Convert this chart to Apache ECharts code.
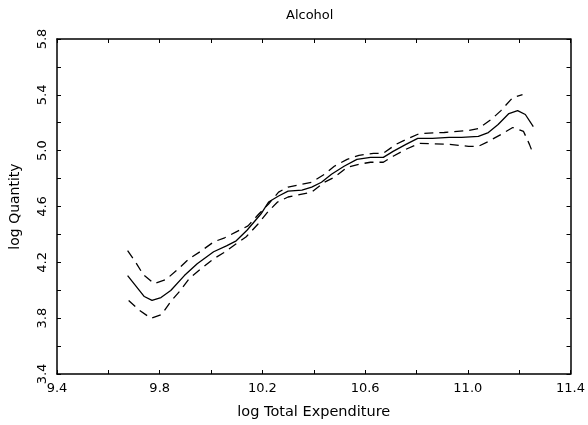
<!DOCTYPE html>
<html>
<head>
<meta charset="utf-8">
<script src="https://cdn.jsdelivr.net/npm/echarts@6/dist/echarts.min.js"></script>
<style>
  html, body { margin: 0; padding: 0; background: #fff; }
  #main { width: 588px; height: 425px; }
</style>
</head>
<body>
<div id="main"></div>
<script>
// fitted curve (solid)
var fitX = [9.675, 9.74, 9.77, 9.805, 9.843, 9.896, 9.946, 10.01, 10.06, 10.098, 10.14, 10.194, 10.224, 10.263, 10.30, 10.354, 10.392, 10.43, 10.469, 10.518, 10.568, 10.621, 10.671, 10.709, 10.759, 10.805, 10.862, 10.927, 10.976, 11.041, 11.08, 11.118, 11.16, 11.194, 11.224, 11.255];
var fitY = [4.105, 3.955, 3.927, 3.948, 3.998, 4.105, 4.19, 4.276, 4.318, 4.354, 4.43, 4.546, 4.632, 4.675, 4.71, 4.717, 4.739, 4.774, 4.831, 4.888, 4.938, 4.952, 4.952, 4.995, 5.045, 5.088, 5.088, 5.095, 5.095, 5.102, 5.13, 5.187, 5.266, 5.287, 5.259, 5.173];
// upper band (dashed)
var upX = [9.675, 9.705, 9.736, 9.778, 9.824, 9.869, 9.915, 9.957, 10.011, 10.053, 10.098, 10.144, 10.186, 10.224, 10.263, 10.30, 10.354, 10.392, 10.442, 10.48, 10.53, 10.576, 10.633, 10.67, 10.72, 10.759, 10.812, 10.908, 11.003, 11.041, 11.091, 11.129, 11.175, 11.213];
var upY = [4.283, 4.205, 4.112, 4.048, 4.076, 4.148, 4.226, 4.276, 4.347, 4.376, 4.418, 4.461, 4.546, 4.618, 4.703, 4.739, 4.76, 4.774, 4.831, 4.888, 4.938, 4.967, 4.98, 4.98, 5.045, 5.08, 5.123, 5.13, 5.145, 5.159, 5.223, 5.287, 5.38, 5.401];
// lower band (dashed)
var loX = [9.679, 9.721, 9.766, 9.808, 9.843, 9.877, 9.915, 9.957, 10.011, 10.049, 10.098, 10.137, 10.183, 10.221, 10.259, 10.30, 10.354, 10.392, 10.442, 10.48, 10.53, 10.576, 10.621, 10.671, 10.709, 10.759, 10.812, 10.927, 11.003, 11.041, 11.08, 11.129, 11.175, 11.217, 11.24, 11.255];
var loY = [3.927, 3.856, 3.799, 3.827, 3.92, 3.991, 4.083, 4.148, 4.226, 4.269, 4.333, 4.383, 4.475, 4.561, 4.632, 4.668, 4.689, 4.703, 4.774, 4.81, 4.881, 4.903, 4.917, 4.917, 4.96, 5.01, 5.052, 5.045, 5.031, 5.031, 5.066, 5.116, 5.166, 5.138, 5.045, 4.974];

var xLabels = [9.4, 9.8, 10.2, 10.6, 11.0, 11.4];
var yLabels = [3.4, 3.8, 4.2, 4.6, 5.0, 5.4, 5.8];

function pairs(xs, ys) {
    return xs.map(function (x, i) { return [x, ys[i]]; });
}
function pick(list) {
    return function (v) {
        for (var i = 0; i < list.length; i++) {
            if (Math.abs(list[i] - v) < 1e-6) return list[i].toFixed(1);
        }
        return '';
    };
}

var font = 'DejaVu Sans';
var tick = { show: true, inside: true, length: 4, lineStyle: { color: '#000', width: 1 } };
var line = { show: true, onZero: false, lineStyle: { color: '#000', width: 1.5 } };

var myChart = echarts.init(document.getElementById('main'));
var option = {
    backgroundColor: '#fff',
    animation: false,
    title: {
        text: 'Alcohol',
        left: 281,
        top: 4,
        textStyle: { fontFamily: font, fontSize: 13, fontWeight: 'normal', color: '#000' }
    },
    grid: { left: 47, right: 17, top: 39, bottom: 49 },
    xAxis: [
        {
            type: 'value', min: 9.4, max: 11.4, interval: 0.2,
            axisLine: line, axisTick: tick, splitLine: { show: false },
            axisLabel: { formatter: pick(xLabels), color: '#000', fontFamily: font, fontSize: 13, margin: 8 },
            name: 'log Total Expenditure', nameLocation: 'middle', nameGap: 31,
            nameTextStyle: { fontFamily: font, fontSize: 14.5, color: '#000' }
        },
        {
            type: 'value', position: 'top', min: 9.4, max: 11.4, interval: 0.2,
            axisLine: line, axisTick: tick, splitLine: { show: false }, axisLabel: { show: false }
        }
    ],
    yAxis: [
        {
            type: 'value', min: 3.4, max: 5.8, interval: 0.2,
            axisLine: line, axisTick: tick, splitLine: { show: false },
            axisLabel: { formatter: pick(yLabels), rotate: 90, color: '#000', fontFamily: font, fontSize: 13, margin: 8 },
            name: 'log Quantity', nameLocation: 'middle', nameGap: 35,
            nameTextStyle: { fontFamily: font, fontSize: 14, color: '#000' }
        },
        {
            type: 'value', position: 'right', min: 3.4, max: 5.8, interval: 0.2,
            axisLine: line, axisTick: tick, splitLine: { show: false }, axisLabel: { show: false }
        }
    ],
    series: [
        {
            type: 'line', data: pairs(fitX, fitY), showSymbol: false, silent: true,
            lineStyle: { color: '#000', width: 1.3 }
        },
        {
            type: 'line', data: pairs(upX, upY), showSymbol: false, silent: true,
            lineStyle: { color: '#000', width: 1.3, type: [9, 6] }
        },
        {
            type: 'line', data: pairs(loX, loY), showSymbol: false, silent: true,
            lineStyle: { color: '#000', width: 1.3, type: [9, 6] }
        }
    ]
};
myChart.setOption(option);
</script>
</body>
</html>
